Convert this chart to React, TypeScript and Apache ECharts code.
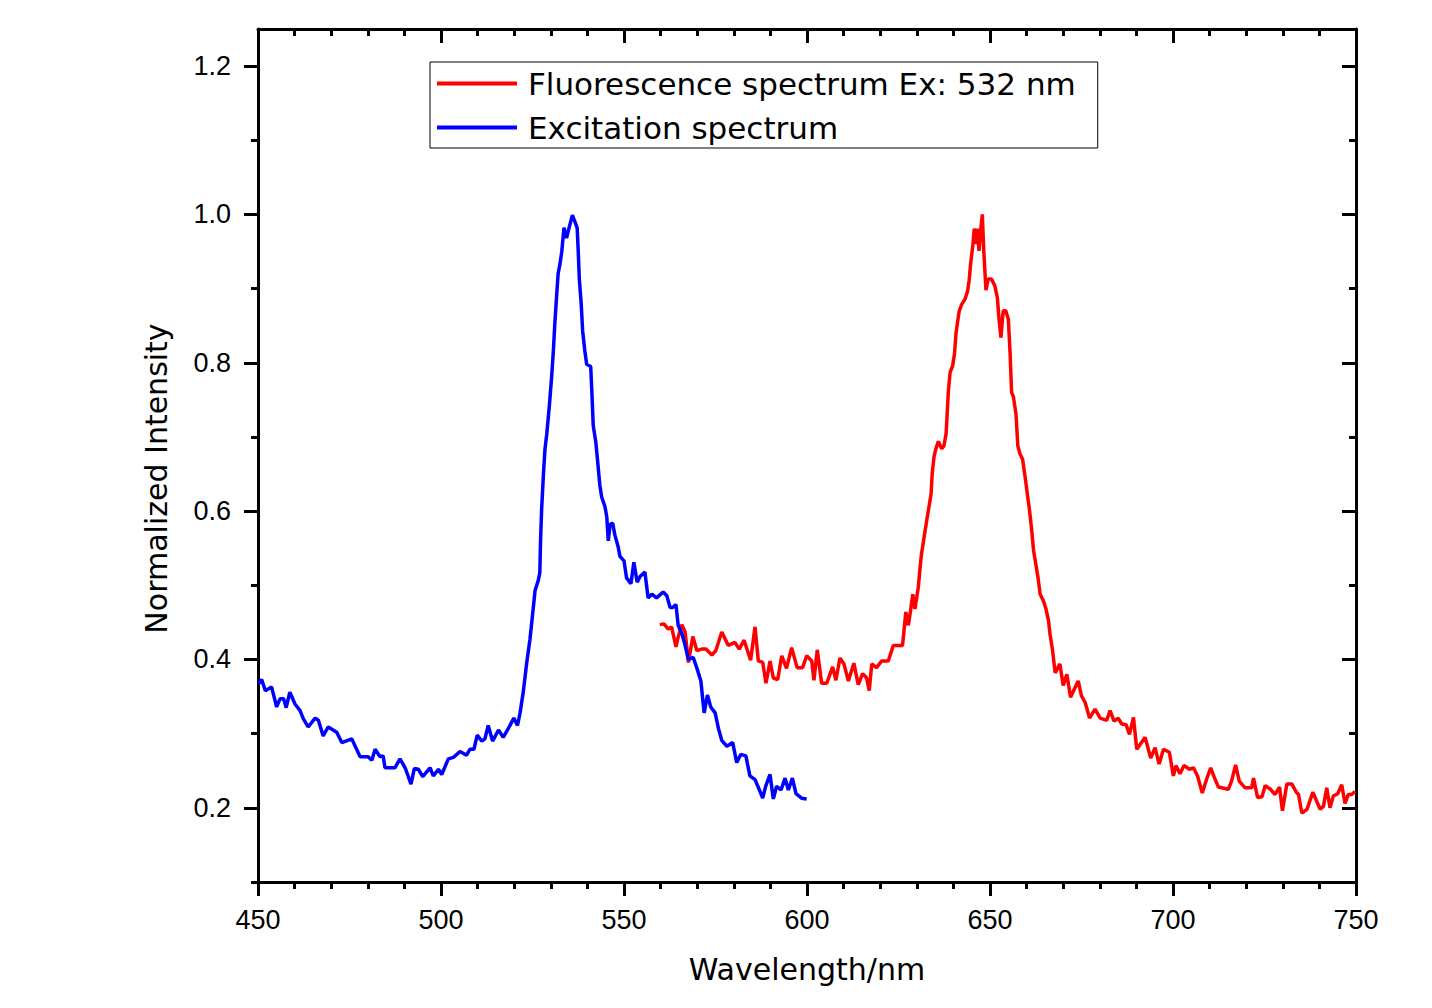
import React, { useEffect, useRef } from "react";
import * as echarts from "echarts";

const xTicks = [450, 500, 550, 600, 650, 700, 750];
const yMajorTicks = [0.2, 0.4, 0.6, 0.8, 1.0, 1.2];
const yMinorTicks = [0.1, 0.3, 0.5, 0.7, 0.9, 1.1];

const seriesNames = ["Fluorescence spectrum Ex: 532 nm", "Excitation spectrum"];

const excitationX = [
  450.1, 451.0, 452.0, 453.7, 455.1, 456.0, 457.0, 457.7, 458.7, 460.1, 461.5, 462.4, 463.7, 465.6, 466.5,
  467.8, 469.2, 471.5, 472.9, 475.6, 477.9, 480.1, 481.1, 482.0, 483.3, 484.2, 484.7, 487.4, 488.8, 490.2,
  491.8, 492.7, 493.8, 495.0, 497.0, 497.9, 499.3, 500.2, 502.0, 503.4, 505.2, 507.0, 507.9, 509.0, 509.9,
  511.1, 512.0, 512.9, 514.1, 515.7, 517.0, 518.4, 519.9, 520.9, 521.6, 522.5, 523.4, 524.3, 525.2, 525.7,
  526.6, 527.0, 527.2, 527.5, 528.0, 528.4, 528.9, 529.6, 530.2, 530.7, 531.1, 531.6, 532.0, 532.5, 533.0,
  533.6, 534.3, 535.0, 535.9, 536.6, 537.2, 537.5, 537.8, 538.3, 538.7, 539.3, 539.8, 540.9, 541.2, 541.6,
  542.3, 542.8, 543.4, 543.9, 544.8, 545.3, 545.7, 546.2, 546.9, 547.5, 548.4, 548.9, 550.0, 550.7, 551.9,
  552.7, 553.6, 554.4, 555.7, 556.6, 557.6, 558.9, 560.7, 561.7, 562.6, 563.3, 564.2, 564.8, 565.8, 566.7,
  567.6, 568.9, 570.0, 571.0, 571.9, 572.8, 573.7, 574.9, 575.8, 576.7, 578.1, 579.7, 580.8, 581.9, 583.3,
  584.4, 585.8, 587.0, 587.9, 588.7, 589.9, 590.8, 591.7, 592.9, 594.0, 594.9, 596.0, 597.0, 598.5, 599.9,
];
const excitationY = [
  0.367, 0.373, 0.358, 0.363, 0.336, 0.347, 0.347, 0.335, 0.356, 0.34, 0.331, 0.32, 0.309, 0.321, 0.318,
  0.297, 0.309, 0.302, 0.288, 0.293, 0.269, 0.269, 0.264, 0.279, 0.269, 0.27, 0.254, 0.254, 0.266, 0.254,
  0.232, 0.253, 0.252, 0.242, 0.254, 0.243, 0.252, 0.245, 0.266, 0.268, 0.276, 0.271, 0.279, 0.279, 0.298,
  0.29, 0.293, 0.311, 0.29, 0.305, 0.295, 0.307, 0.321, 0.311, 0.328, 0.357, 0.395, 0.427, 0.469, 0.493,
  0.507, 0.517, 0.56, 0.603, 0.651, 0.683, 0.704, 0.742, 0.779, 0.816, 0.853, 0.891, 0.92, 0.933, 0.95,
  0.982, 0.968, 0.982, 0.999, 0.99, 0.982, 0.95, 0.912, 0.88, 0.843, 0.816, 0.798, 0.795, 0.763, 0.715,
  0.693, 0.667, 0.635, 0.619, 0.606, 0.592, 0.56, 0.582, 0.584, 0.568, 0.552, 0.539, 0.533, 0.51, 0.502,
  0.531, 0.504, 0.512, 0.518, 0.483, 0.488, 0.483, 0.491, 0.486, 0.47, 0.47, 0.474, 0.446, 0.435, 0.419,
  0.4, 0.403, 0.387, 0.371, 0.328, 0.352, 0.336, 0.328, 0.307, 0.291, 0.283, 0.288, 0.261, 0.272, 0.27,
  0.243, 0.238, 0.224, 0.213, 0.229, 0.245, 0.212, 0.229, 0.224, 0.24, 0.224, 0.24, 0.219, 0.213, 0.212,
];

const fluorescenceX = [
  559.8, 560.9, 562.1, 563.0, 564.2, 564.8, 565.8, 566.7, 567.6, 568.8, 569.9, 571.2, 572.4, 574.0, 575.1,
  576.7, 578.5, 580.3, 581.5, 582.8, 584.6, 585.8, 586.7, 587.9, 588.8, 589.9, 590.8, 592.0, 593.1, 594.4,
  595.8, 597.3, 598.8, 599.9, 601.3, 601.9, 602.8, 604.0, 605.4, 607.0, 607.9, 609.0, 610.1, 611.3, 612.8,
  614.0, 615.2, 616.3, 617.0, 617.7, 619.0, 620.4, 622.2, 623.6, 626.1, 626.5, 627.0, 627.7, 628.3, 628.9,
  629.5, 630.4, 630.9, 631.3, 632.0, 632.7, 633.3, 633.9, 634.2, 634.7, 635.2, 635.9, 636.8, 637.4, 638.0,
  638.3, 638.6, 639.1, 639.8, 640.3, 640.7, 641.2, 641.6, 642.3, 643.2, 643.9, 644.3, 644.7, 645.3, 645.7,
  646.2, 646.5, 647.0, 647.5, 647.9, 648.3, 648.6, 648.9, 649.5, 650.4, 651.3, 652.0, 652.5, 653.0, 653.6,
  654.3, 655.0, 655.5, 655.9, 656.4, 657.1, 657.6, 658.2, 658.9, 659.6, 660.2, 660.8, 661.4, 661.9, 662.5,
  663.1, 663.7, 664.6, 665.3, 666.0, 666.4, 667.1, 667.8, 669.1, 670.0, 671.0, 672.0, 674.1, 675.0, 676.0,
  677.2, 678.7, 680.1, 681.9, 682.8, 683.9, 685.0, 686.0, 687.2, 688.1, 689.2, 690.1, 692.4, 693.9, 695.1,
  696.2, 697.4, 699.0, 700.1, 700.8, 701.9, 703.0, 704.5, 705.6, 706.7, 708.0, 709.2, 710.3, 711.2, 712.4,
  715.1, 716.0, 717.1, 718.1, 719.7, 721.5, 722.0, 723.1, 724.3, 725.2, 726.6, 727.9, 729.1, 729.9, 731.1,
  732.5, 733.7, 734.3, 735.2, 736.6, 738.2, 740.2, 741.1, 742.0, 742.9, 743.8, 745.0, 746.1, 747.0, 747.9,
  748.8, 749.7,
];
const fluorescenceY = [
  0.447, 0.448, 0.441, 0.444, 0.417, 0.43, 0.447, 0.437, 0.396, 0.431, 0.412, 0.414, 0.414, 0.406, 0.412,
  0.437, 0.419, 0.423, 0.414, 0.426, 0.399, 0.444, 0.398, 0.396, 0.368, 0.398, 0.375, 0.373, 0.405, 0.388,
  0.416, 0.389, 0.389, 0.405, 0.398, 0.372, 0.413, 0.368, 0.368, 0.39, 0.372, 0.402, 0.394, 0.371, 0.395,
  0.366, 0.381, 0.375, 0.358, 0.394, 0.389, 0.398, 0.398, 0.419, 0.419, 0.439, 0.464, 0.446, 0.466, 0.488,
  0.468, 0.497, 0.524, 0.543, 0.565, 0.587, 0.605, 0.623, 0.65, 0.673, 0.684, 0.694, 0.684, 0.688, 0.704,
  0.731, 0.76, 0.787, 0.796, 0.812, 0.839, 0.857, 0.87, 0.879, 0.886, 0.897, 0.911, 0.933, 0.958, 0.981,
  0.96, 0.981, 0.951, 0.981, 1.0, 0.951, 0.924, 0.898, 0.913, 0.913, 0.904, 0.888, 0.857, 0.834, 0.87,
  0.87, 0.859, 0.812, 0.76, 0.754, 0.731, 0.688, 0.677, 0.67, 0.646, 0.623, 0.601, 0.574, 0.547, 0.529,
  0.511, 0.488, 0.479, 0.468, 0.452, 0.434, 0.412, 0.382, 0.394, 0.365, 0.38, 0.349, 0.371, 0.351, 0.342,
  0.321, 0.333, 0.321, 0.318, 0.331, 0.317, 0.321, 0.313, 0.312, 0.299, 0.322, 0.279, 0.295, 0.267, 0.281,
  0.259, 0.279, 0.275, 0.243, 0.257, 0.246, 0.257, 0.252, 0.254, 0.243, 0.22, 0.239, 0.254, 0.242, 0.228,
  0.225, 0.236, 0.258, 0.236, 0.227, 0.227, 0.24, 0.214, 0.215, 0.23, 0.225, 0.218, 0.228, 0.196, 0.232,
  0.232, 0.221, 0.218, 0.193, 0.198, 0.221, 0.198, 0.202, 0.227, 0.2, 0.216, 0.219, 0.231, 0.206, 0.218,
  0.218, 0.222,
];

const AX = "#000000";
const LW = 3;

function pairs(xs: number[], ys: number[]) {
  return xs.map((x, i) => [x, ys[i]]);
}

export default function App() {
  const ref = useRef<HTMLDivElement>(null);
  useEffect(() => {
    document.body.style.margin = "0";
    const chart = echarts.init(ref.current!, null, { renderer: "svg" });
    const tickLabelFont = { fontFamily: "Liberation Sans", fontSize: 27, color: AX };
    const baseX = {
      type: "value" as const,
      min: xTicks[0],
      max: xTicks[xTicks.length - 1],
      interval: 50,
      splitLine: { show: false },
      axisLine: { show: true, onZero: false, lineStyle: { color: AX, width: LW } },
      minorTick: { show: true, splitNumber: 5, length: 7, lineStyle: { color: AX, width: LW } },
      minorSplitLine: { show: false },
    };
    const baseY = {
      type: "value" as const,
      min: 0.1,
      max: 1.25,
      splitLine: { show: false },
    };
    chart.setOption({
      animation: false,
      backgroundColor: "#ffffff",
      grid: { left: 258, right: 76, top: 29, bottom: 126, containLabel: false },
      legend: {
        orient: "vertical",
        left: 430,
        top: 62,
        data: seriesNames.map((n) => ({ name: n, icon: "rect" })),
        padding: [6, 22, 5, 7],
        itemGap: 13,
        itemWidth: 80,
        itemHeight: 4,
        borderColor: AX,
        borderWidth: 1,
        borderRadius: 0,
        backgroundColor: "#ffffff",
        textStyle: { fontFamily: "DejaVu Sans", fontSize: 31, color: AX, padding: [0, 0, 0, 6] },
      },
      xAxis: [
        {
          ...baseX,
          position: "bottom",
          name: "Wavelength/nm",
          nameLocation: "middle",
          nameGap: 72,
          nameTextStyle: { fontFamily: "DejaVu Sans", fontSize: 30, color: AX },
          axisTick: { show: true, length: 14, inside: false, lineStyle: { color: AX, width: LW } },
          axisLabel: { ...tickLabelFont, margin: 24 },
        },
        {
          ...baseX,
          position: "top",
          axisTick: { show: true, length: 14, inside: true, lineStyle: { color: AX, width: LW } },
          axisLabel: { show: false },
        },
      ],
      yAxis: [
        {
          ...baseY,
          position: "left",
          name: "Normalized Intensity",
          nameLocation: "middle",
          nameGap: 87,
          nameTextStyle: { fontFamily: "DejaVu Sans", fontSize: 30, color: AX, padding: [0, 46, 0, 0] },
          axisLine: { show: true, onZero: false, lineStyle: { color: AX, width: LW } },
          axisTick: { show: true, length: 14, inside: false, customValues: yMajorTicks, lineStyle: { color: AX, width: LW } },
          axisLabel: {
            ...tickLabelFont,
            margin: 27,
            customValues: yMajorTicks,
            formatter: (v: number) => v.toFixed(1),
          },
        },
        {
          ...baseY,
          position: "left",
          axisLine: { show: false },
          axisTick: { show: true, length: 7, inside: false, customValues: yMinorTicks, lineStyle: { color: AX, width: LW } },
          axisLabel: { show: false },
        },
        {
          ...baseY,
          position: "right",
          axisLine: { show: true, onZero: false, lineStyle: { color: AX, width: LW } },
          axisTick: { show: true, length: 14, inside: true, customValues: yMajorTicks, lineStyle: { color: AX, width: LW } },
          axisLabel: { show: false },
        },
        {
          ...baseY,
          position: "right",
          axisLine: { show: false },
          axisTick: { show: true, length: 7, inside: true, customValues: yMinorTicks, lineStyle: { color: AX, width: LW } },
          axisLabel: { show: false },
        },
      ],
      series: [
        {
          name: seriesNames[0],
          type: "line",
          xAxisIndex: 0,
          yAxisIndex: 0,
          data: pairs(fluorescenceX, fluorescenceY),
          symbol: "none",
          showSymbol: false,
          color: "#ff0000",
          itemStyle: { color: "#ff0000" },
          lineStyle: { color: "#ff0000", width: 3.5 },
          z: 2,
        },
        {
          name: seriesNames[1],
          type: "line",
          xAxisIndex: 0,
          yAxisIndex: 0,
          data: pairs(excitationX, excitationY),
          symbol: "none",
          showSymbol: false,
          color: "#0000ff",
          itemStyle: { color: "#0000ff" },
          lineStyle: { color: "#0000ff", width: 3.5 },
          z: 3,
        },
      ],
    });
    return () => chart.dispose();
  }, []);
  return (
    <div
      ref={ref}
      style={{ position: "absolute", left: 0, top: 0, width: 1432, height: 1008, background: "#fff" }}
    />
  );
}
